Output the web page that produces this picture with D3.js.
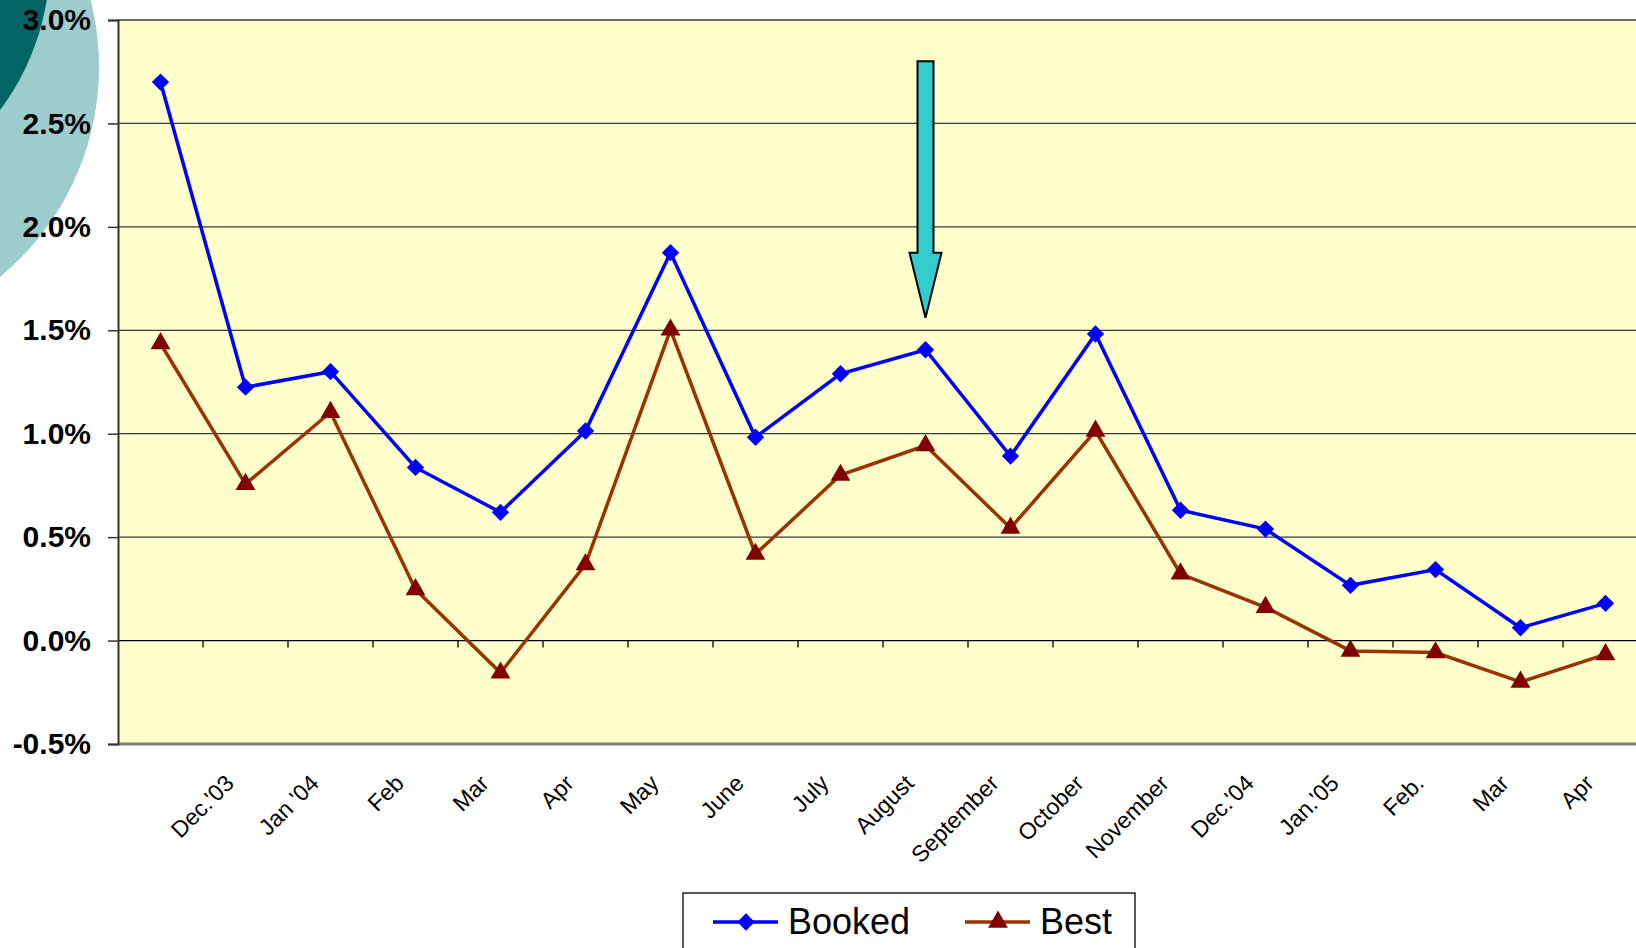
<!DOCTYPE html>
<html>
<head>
<meta charset="utf-8">
<script src="https://cdn.jsdelivr.net/npm/d3@7"></script>
<style>
  body { margin: 0; background: #fff; }
  text { font-family: "Liberation Sans", Arial, sans-serif; }
</style>
</head>
<body>
<svg id="chart" width="1636" height="948"></svg>
<script>
// month labels (first point has no label)
const monthLabels = ['', "Dec.'03", "Jan '04", 'Feb', 'Mar', 'Apr', 'May', 'June', 'July', 'August',
  'September', 'October', 'November', "Dec.'04", "Jan.'05", 'Feb.', 'Mar', 'Apr'];
const booked = [2.70, 1.225, 1.30, 0.837, 0.62, 1.013, 1.875, 0.983, 1.29, 1.406, 0.892, 1.482, 0.63, 0.539, 0.267, 0.343, 0.062, 0.18];
const best = [1.436, 0.756, 1.104, 0.247, -0.156, 0.368, 1.502, 0.418, 0.80, 0.943, 0.544, 1.013, 0.323, 0.161, -0.05, -0.058, -0.20, -0.067];
const seriesNames = ['Booked', 'Best'];
const yTicks = [-0.5, 0, 0.5, 1.0, 1.5, 2.0, 2.5, 3.0];
// arrow annotation, in data units
const arrowAt = { index: 9, top: 2.8, neck: 1.875, tip: 1.56 };

const svg = d3.select('#chart');
const plotLeft = 118, plotTop = 20, plotBottom = 744, band = 85;
const plotRight = plotLeft + band * booked.length;

// background decoration circles
svg.append('circle').attr('cx', -173).attr('cy', 67).attr('r', 272).attr('fill', '#9ccccc');
svg.append('circle').attr('cx', -200).attr('cy', -40).attr('r', 250).attr('fill', '#006464');

let x = d3.scaleBand()
  .domain(d3.range(booked.length))
  .range([plotLeft, plotRight]);
let y = d3.scaleLinear()
  .domain([-0.5, 3.0])
  .range([plotBottom, plotTop]);
const cx = i => x(i) + x.bandwidth() / 2;

// plot area
svg.append('rect')
  .attr('x', plotLeft).attr('y', plotTop)
  .attr('width', plotRight - plotLeft).attr('height', plotBottom - plotTop)
  .attr('fill', '#ffffcc');

// gridlines
svg.append('g').selectAll('line')
  .data(yTicks.filter(d => d > -0.5))
  .join('line')
  .attr('x1', plotLeft).attr('x2', plotRight)
  .attr('y1', d => y(d)).attr('y2', d => y(d))
  .attr('stroke', d => d === 0 ? '#000' : '#3a3a3a')
  .attr('stroke-width', 1.3);

// bottom border
svg.append('line')
  .attr('x1', plotLeft).attr('x2', plotRight)
  .attr('y1', plotBottom).attr('y2', plotBottom)
  .attr('stroke', '#808080').attr('stroke-width', 3);

// category tick marks on the zero line
svg.append('g').selectAll('line')
  .data(d3.range(1, booked.length))
  .join('line')
  .attr('x1', d => x(d)).attr('x2', d => x(d))
  .attr('y1', y(0)).attr('y2', y(0) + 7)
  .attr('stroke', '#000').attr('stroke-width', 1.3);

// y axis
let yAxis = d3.axisLeft(y).tickValues(yTicks).tickSize(10).tickPadding(17)
  .tickFormat(d => d.toFixed(1) + '%');
let yg = svg.append('g').attr('transform', `translate(${plotLeft},0)`).call(yAxis);
yg.select('.domain').attr('stroke', '#333').attr('stroke-width', 2);
yg.selectAll('.tick line').attr('stroke', '#333').attr('stroke-width', 1.5);
yg.selectAll('.tick text')
  .style('font-family', '"Liberation Sans", Arial, sans-serif')
  .style('font-size', '30px').style('font-weight', 'bold').attr('fill', '#000');

// x axis labels
let xAxis = d3.axisBottom(x).tickSize(0).tickFormat(i => monthLabels[i]);
let xg = svg.append('g').attr('transform', `translate(0,${plotBottom})`).call(xAxis);
xg.select('.domain').remove();
xg.selectAll('.tick text')
  .attr('y', 0).attr('dy', '0.35em')
  .attr('text-anchor', 'end')
  .attr('transform', 'translate(-16,35) rotate(-45)')
  .style('font-family', '"Liberation Sans", Arial, sans-serif')
  .style('font-size', '23px').attr('fill', '#000');

// lines
let lineFn = d3.line().x((d, i) => cx(i)).y(d => y(d));
svg.append('path').attr('d', lineFn(best))
  .attr('fill', 'none').attr('stroke', '#993300').attr('stroke-width', 3.5);
svg.append('path').attr('d', lineFn(booked))
  .attr('fill', 'none').attr('stroke', '#0000ff').attr('stroke-width', 3.5);

const diamond = d3.symbol(d3.symbolSquare, 150)();
const triangle = d3.symbol(d3.symbolTriangle, 170)();

svg.append('g').selectAll('path')
  .data(best)
  .join('path')
  .attr('d', triangle)
  .attr('transform', (d, i) => `translate(${cx(i)},${y(d)})`)
  .attr('fill', '#800000');
svg.append('g').selectAll('path')
  .data(booked)
  .join('path')
  .attr('d', diamond)
  .attr('transform', (d, i) => `translate(${cx(i)},${y(d)}) rotate(45)`)
  .attr('fill', '#0000ff');

// arrow annotation
const ax = cx(arrowAt.index);
const arrowPts = [
  [ax - 8, y(arrowAt.top)], [ax + 8, y(arrowAt.top)], [ax + 8, y(arrowAt.neck)],
  [ax + 16, y(arrowAt.neck)], [ax, y(arrowAt.tip)], [ax - 16, y(arrowAt.neck)],
  [ax - 8, y(arrowAt.neck)]
];
svg.append('path')
  .attr('d', d3.line()(arrowPts) + 'Z')
  .attr('fill', '#33cccc').attr('stroke', '#000').attr('stroke-width', 2)
  .attr('stroke-linejoin', 'miter');

// legend
let legend = svg.append('g').attr('transform', 'translate(683,893)');
legend.append('rect')
  .attr('x', 0).attr('y', 0).attr('width', 452).attr('height', 80)
  .attr('fill', '#fff').attr('stroke', '#000').attr('stroke-width', 1.3);
const legendColors = ['#0000ff', '#993300'];
const markerColors = ['#0000ff', '#800000'];
let items = legend.selectAll('g.item')
  .data(seriesNames)
  .join('g')
  .attr('class', 'item')
  .attr('transform', (d, i) => `translate(${30 + i * 252},29)`);
items.append('line')
  .attr('x1', 0).attr('x2', 65).attr('y1', 0).attr('y2', 0)
  .attr('stroke', (d, i) => legendColors[i]).attr('stroke-width', 3.5);
items.append('path')
  .attr('d', (d, i) => i === 0 ? diamond : triangle)
  .attr('transform', (d, i) => i === 0 ? 'translate(33,0) rotate(45)' : 'translate(33,0)')
  .attr('fill', (d, i) => markerColors[i]);
items.append('text')
  .attr('x', 75).attr('y', 12)
  .style('font-size', '36px').attr('fill', '#000')
  .text(d => d);
</script>
</body>
</html>
